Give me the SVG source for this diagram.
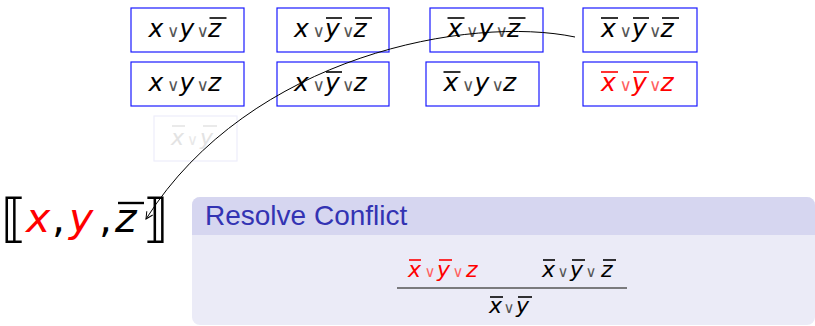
<svg xmlns="http://www.w3.org/2000/svg" width="815" height="326" viewBox="0 0 815 326">
<style>
.v{font-family:"DejaVu Sans",sans-serif;font-style:oblique;font-size:25px;fill:#000}
.vs{font-family:"DejaVu Sans",sans-serif;font-style:oblique;font-size:22px;fill:#000}
.op{font-family:"DejaVu Sans",sans-serif;font-style:normal;font-size:17px;fill:#555}
.ops{font-family:"DejaVu Sans",sans-serif;font-style:normal;font-size:15px;fill:#555}
.red{fill:#ff0000}
.redop{fill:#ff6060}
.bar{stroke:#000;stroke-width:1.6}
.rbar{stroke:#ff0000;stroke-width:1.6}
.box{fill:#fff;stroke:#1a1aff;stroke-width:1.2}
</style>
<defs>
<marker id="arr" markerUnits="userSpaceOnUse" markerWidth="12" markerHeight="12" viewBox="-9 -6 12 12" refX="0" refY="0" orient="auto">
<path d="M-7,-3.5 L0,0 L-7,3.5" fill="none" stroke="#000" stroke-width="1"/>
</marker>
</defs>

<g id="n-r1b1">
<rect class="box" x="131" y="8" width="113" height="44"/>
<g transform="translate(187.5,37)">
<text class="v"><tspan x="-39">x</tspan><tspan class="op" x="-20.5">∨</tspan><tspan x="-8">y</tspan><tspan class="op" x="9">∨</tspan><tspan x="20.5">z</tspan></text>
<line class="bar" x1="22" y1="-19" x2="39" y2="-19"/>
</g>
</g>
<g id="n-r1b2">
<rect class="box" x="277" y="8" width="112" height="44"/>
<g transform="translate(333,37)">
<text class="v"><tspan x="-39">x</tspan><tspan class="op" x="-20.5">∨</tspan><tspan x="-8">y</tspan><tspan class="op" x="9">∨</tspan><tspan x="20.5">z</tspan></text>
<line class="bar" x1="-7" y1="-19" x2="9" y2="-19"/>
<line class="bar" x1="22" y1="-19" x2="39" y2="-19"/>
</g>
</g>
<g id="n-r1b3">
<rect class="box" x="430" y="8" width="113" height="44"/>
<g transform="translate(486.5,37)">
<text class="v"><tspan x="-39">x</tspan><tspan class="op" x="-20.5">∨</tspan><tspan x="-8">y</tspan><tspan class="op" x="9">∨</tspan><tspan x="20.5">z</tspan></text>
<line class="bar" x1="-39" y1="-19" x2="-22" y2="-19"/>
<line class="bar" x1="22" y1="-19" x2="39" y2="-19"/>
</g>
</g>
<g id="n-r1b4">
<rect class="box" x="583" y="8" width="114" height="44"/>
<g transform="translate(640,37)">
<text class="v"><tspan x="-39">x</tspan><tspan class="op" x="-20.5">∨</tspan><tspan x="-8">y</tspan><tspan class="op" x="9">∨</tspan><tspan x="20.5">z</tspan></text>
<line class="bar" x1="-39" y1="-19" x2="-22" y2="-19"/>
<line class="bar" x1="-7" y1="-19" x2="9" y2="-19"/>
<line class="bar" x1="22" y1="-19" x2="39" y2="-19"/>
</g>
</g>
<g id="n-r2b1">
<rect class="box" x="131" y="62" width="113" height="44"/>
<g transform="translate(187.5,91)">
<text class="v"><tspan x="-39">x</tspan><tspan class="op" x="-20.5">∨</tspan><tspan x="-8">y</tspan><tspan class="op" x="9">∨</tspan><tspan x="20.5">z</tspan></text>
</g>
</g>
<g id="n-r2b2">
<rect class="box" x="277" y="62" width="112" height="44"/>
<g transform="translate(333,91)">
<text class="v"><tspan x="-39">x</tspan><tspan class="op" x="-20.5">∨</tspan><tspan x="-8">y</tspan><tspan class="op" x="9">∨</tspan><tspan x="20.5">z</tspan></text>
<line class="bar" x1="-7" y1="-19" x2="9" y2="-19"/>
</g>
</g>
<g id="n-r2b3">
<rect class="box" x="426" y="62" width="113" height="44"/>
<g transform="translate(482.5,91)">
<text class="v"><tspan x="-39">x</tspan><tspan class="op" x="-20.5">∨</tspan><tspan x="-8">y</tspan><tspan class="op" x="9">∨</tspan><tspan x="20.5">z</tspan></text>
<line class="bar" x1="-39" y1="-19" x2="-22" y2="-19"/>
</g>
</g>
<g id="n-r2b4">
<rect class="box" x="583" y="62" width="114" height="44"/>
<g transform="translate(640,91)">
<text class="v red"><tspan x="-39">x</tspan><tspan class="op redop" x="-20.5">∨</tspan><tspan x="-8">y</tspan><tspan class="op redop" x="9">∨</tspan><tspan x="20.5">z</tspan></text>
<line class="rbar" x1="-39" y1="-19" x2="-22" y2="-19"/>
<line class="rbar" x1="-7" y1="-19" x2="9" y2="-19"/>
</g>
</g>
<g id="n-faded">
<rect x="154" y="116" width="83" height="45" fill="#fff" stroke="#ededfb" stroke-width="1.2"/>
<text class="vs" style="fill:#e3e3e3"><tspan x="171" y="145">x</tspan><tspan class="ops" style="fill:#e8e8e8" x="187" y="145">∨</tspan><tspan x="200" y="145">y</tspan></text>
<line x1="172" y1="126" x2="185" y2="126" stroke="#e3e3e3" stroke-width="1.5"/>
<line x1="203" y1="126" x2="217" y2="126" stroke="#e3e3e3" stroke-width="1.5"/>
</g>

<g id="n-assign">
<text font-family="DejaVu Sans, sans-serif" font-size="52" x="1" y="236">⟦</text>
<text font-family="DejaVu Sans, sans-serif" font-size="41" font-style="oblique" y="232"><tspan x="26" fill="#ff0000">x</tspan><tspan x="52" font-style="normal">,</tspan><tspan x="69" fill="#ff0000">y</tspan><tspan x="99" font-style="normal">,</tspan><tspan x="115">z</tspan></text>
<line x1="118" y1="203" x2="144" y2="203" stroke="#000" stroke-width="2.4"/>
<text font-family="DejaVu Sans, sans-serif" font-size="52" x="143" y="236">⟧</text>
</g>

<g id="n-block">
<rect x="192" y="197" width="623" height="128" rx="8" fill="#ebebf7"/>
<path d="M192,235 V205 A8,8 0 0 1 200,197 H807 A8,8 0 0 1 815,205 V235 Z" fill="#d6d6f0"/>
<text x="205" y="225" font-family="Liberation Sans, Arial, sans-serif" font-size="28" fill="#3333b3">Resolve Conflict</text>
<text class="vs"><tspan class="red" x="408" y="277">x</tspan><tspan class="ops redop" x="424.5" y="277">∨</tspan><tspan class="red" x="437" y="277">y</tspan><tspan class="ops redop" x="452.5" y="277">∨</tspan><tspan class="red" x="466" y="277">z</tspan></text>
<line class="rbar" x1="409" y1="260" x2="421" y2="260"/>
<line class="rbar" x1="439" y1="260" x2="452" y2="260"/>
<text class="vs"><tspan x="542" y="277">x</tspan><tspan class="ops" x="557.5" y="277">∨</tspan><tspan x="570" y="277">y</tspan><tspan class="ops" x="585.5" y="277">∨</tspan><tspan x="601" y="277">z</tspan></text>
<line class="bar" x1="543" y1="260" x2="555" y2="260"/>
<line class="bar" x1="572" y1="260" x2="585" y2="260"/>
<line class="bar" x1="603" y1="260" x2="616" y2="260"/>
<line x1="397" y1="288" x2="627" y2="288" stroke="#555" stroke-width="1.3"/>
<text class="vs"><tspan x="489" y="313">x</tspan><tspan class="ops" x="503.5" y="313">∨</tspan><tspan x="516" y="313">y</tspan></text>
<line class="bar" x1="490" y1="297" x2="503" y2="297"/>
<line class="bar" x1="518" y1="297" x2="532" y2="297"/>
</g>

<g id="connectors">
<path d="M575,37 C470,15 250,55 146,219" fill="none" stroke="#000" stroke-width="1" marker-end="url(#arr)"/>
</g>
</svg>
